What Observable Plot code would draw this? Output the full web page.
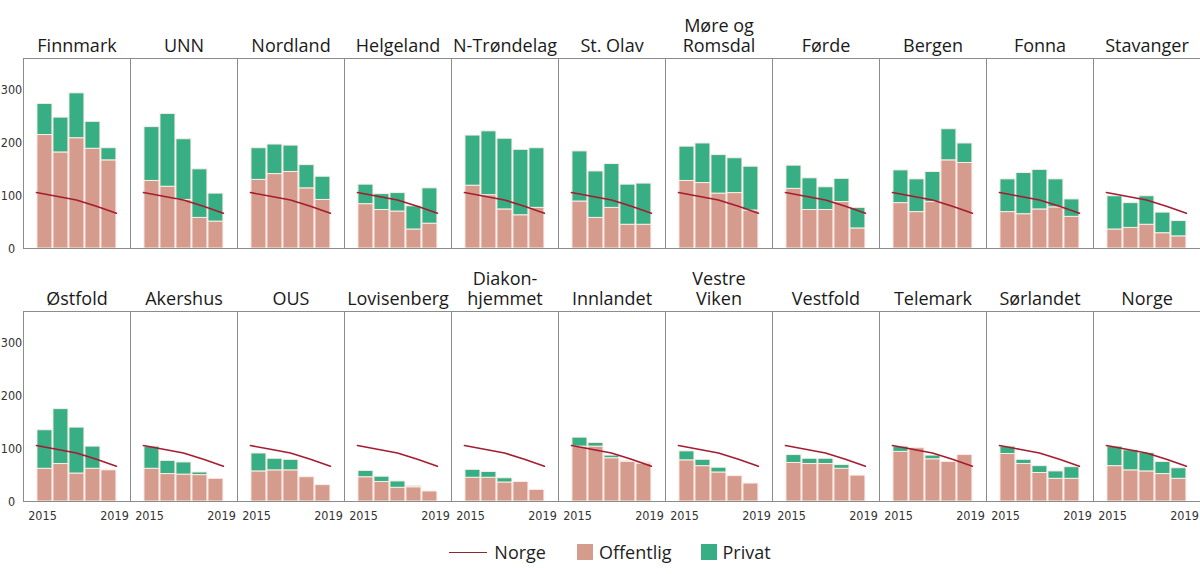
<!DOCTYPE html>
<html>
<head>
<meta charset="utf-8">
<script src="https://cdn.jsdelivr.net/npm/d3@7"></script>
<script src="https://cdn.jsdelivr.net/npm/@observablehq/plot@0.6"></script>
<style>
  body { margin: 0; background: #fff; font-family: "Open Sans", sans-serif; }
  #legend { display: flex; align-items: center; justify-content: center; height: 44px; padding-left: 20px; font-size: 18px; color: #1e1e1e; }
  #legend .item { display: flex; align-items: center; }
  #legend .line { width: 38px; height: 0; border-top: 1.6px solid #8a2a2a; margin-right: 7px; }
  #legend .sq { width: 16px; height: 16px; margin-right: 6px; }
</style>
</head>
<body>
<div id="chart"></div>
<div id="legend"></div>
<script>
// ---- data ----
const years = [2015, 2016, 2017, 2018, 2019];
const panelNames = [
  "Finnmark", "UNN", "Nordland", "Helgeland", "N-Trøndelag", "St. Olav",
  "Møre og\nRomsdal", "Førde", "Bergen", "Fonna", "Stavanger",
  "Østfold", "Akershus", "OUS", "Lovisenberg", "Diakon-\nhjemmet", "Innlandet",
  "Vestre\nViken", "Vestfold", "Telemark", "Sørlandet", "Norge"
];
const offentlig = [
  [215, 182, 209, 189, 167],
  [128, 117, 92, 58, 51],
  [130, 141, 145, 114, 92],
  [84, 73, 70, 36, 47],
  [119, 101, 74, 63, 77],
  [89, 58, 77, 45, 45],
  [128, 124, 104, 105, 72],
  [113, 73, 73, 88, 38],
  [86, 69, 88, 167, 162],
  [69, 65, 74, 78, 60],
  [36, 39, 45, 29, 23],
  [62, 71, 53, 62, 59],
  [62, 52, 51, 50, 43],
  [57, 59, 59, 46, 31],
  [46, 37, 26, 27, 19],
  [45, 45, 36, 37, 22],
  [104, 104, 82, 75, 72],
  [78, 67, 55, 48, 34],
  [73, 71, 71, 62, 49],
  [94, 101, 80, 75, 88],
  [90, 71, 54, 43, 43],
  [67, 59, 57, 52, 43]
];
const privat = [
  [59, 66, 85, 51, 23],
  [102, 138, 115, 92, 53],
  [60, 56, 50, 44, 44],
  [37, 30, 35, 44, 67],
  [95, 121, 134, 124, 113],
  [95, 88, 83, 76, 78],
  [65, 75, 73, 66, 83],
  [44, 60, 43, 44, 39],
  [62, 62, 57, 59, 37],
  [62, 78, 75, 53, 33],
  [63, 47, 54, 39, 29],
  [73, 104, 87, 42, 0],
  [42, 25, 23, 5, 0],
  [34, 22, 20, 0, 0],
  [12, 10, 12, 2, 0],
  [15, 11, 8, 0, 0],
  [17, 7, 5, 2, 2],
  [17, 12, 9, 0, 0],
  [15, 10, 10, 7, 0],
  [10, 0, 7, 0, 0],
  [14, 8, 13, 14, 22],
  [37, 38, 35, 23, 20]
];
const norge = [106, 99, 92, 80, 67];
const yTicks = [0, 100, 200, 300];
const xTickLabels = ["2015", "2019"];
const seriesNames = ["Norge", "Offentlig", "Privat"];
const colors = { Offentlig: "#d59b8c", Privat: "#37ae83", Norge: "#a51c30" };

// ---- tables for Plot ----
const nCols = 11;
const bars = [];
const lines = [];
const titles = [];
panelNames.forEach((name, k) => {
  const col = k % nCols, row = Math.floor(k / nCols);
  titles.push({ col, row, name });
  years.forEach((yr, i) => {
    if (offentlig[k][i] > 0) bars.push({ col, row, year: yr, type: "Offentlig", value: offentlig[k][i] });
    if (privat[k][i] > 0) bars.push({ col, row, year: yr, type: "Privat", value: privat[k][i] });
    // Norge line spans from the left edge of the first bar to the right edge of the last
    lines.push({ col, row, pos: years[0] + i * (years.length / (years.length - 1)), value: norge[i] });
  });
});
const xTickPos = [years[0] + 0.38, years[years.length - 1] + 0.88];
const narrow = "'Liberation Sans Narrow','DejaVu Sans Condensed','Open Sans',sans-serif";

const chart = Plot.plot({
  width: 1200,
  height: 530,
  marginLeft: 23,
  marginRight: 0,
  marginTop: 57,
  marginBottom: 28,
  style: { fontFamily: "'Open Sans', sans-serif", background: "#fff" },
  fx: { axis: null, paddingInner: 0, paddingOuter: 0, domain: d3.range(nCols) },
  fy: { axis: null, paddingInner: 0.248, paddingOuter: 0, domain: [0, 1] },
  x: { domain: [2014.19, 2020.88] },
  y: { domain: [0, 360] },
  color: { domain: ["Offentlig", "Privat"], range: [colors.Offentlig, colors.Privat] },
  marks: [
    Plot.rectY(bars, {
      x: "year", interval: 1, y: "value", fill: "type", fx: "col", fy: "row",
      stroke: "#fcece7", strokeWidth: 1
    }),
    Plot.line(lines, { x: "pos", y: "value", fx: "col", fy: "row", stroke: colors.Norge, strokeWidth: 1.6 }),
    Plot.frame({ stroke: "#8c8c8c", strokeWidth: 1 }),
    Plot.text(titles, {
      fx: "col", fy: "row", text: "name", frameAnchor: "top", dy: -7,
      lineAnchor: "bottom", lineHeight: 1.1, fontSize: 18, fill: "#1a1a1a"
    }),
    Plot.axisY({
      ticks: yTicks, tickSize: 0, tickPadding: 12, textAnchor: "middle", label: null,
      fontSize: 12.5, fontFamily: narrow, fill: "#333"
    }),
    Plot.axisX({
      ticks: xTickPos, tickFormat: d => xTickLabels[xTickPos.indexOf(d)], tickSize: 0, tickPadding: 10,
      label: null, fontSize: 12.5, fontFamily: narrow, fill: "#333"
    })
  ]
});
document.getElementById("chart").appendChild(chart);

// ---- legend ----
const legend = document.getElementById("legend");
seriesNames.forEach((s, i) => {
  const item = document.createElement("div");
  item.className = "item";
  item.style.marginRight = i === 0 ? "31px" : i === 1 ? "29px" : "0";
  const sw = document.createElement("div");
  if (s === "Norge") { sw.className = "line"; }
  else { sw.className = "sq"; sw.style.background = colors[s]; }
  const label = document.createElement("span");
  label.textContent = s;
  item.appendChild(sw);
  item.appendChild(label);
  legend.appendChild(item);
});
</script>
</body>
</html>
